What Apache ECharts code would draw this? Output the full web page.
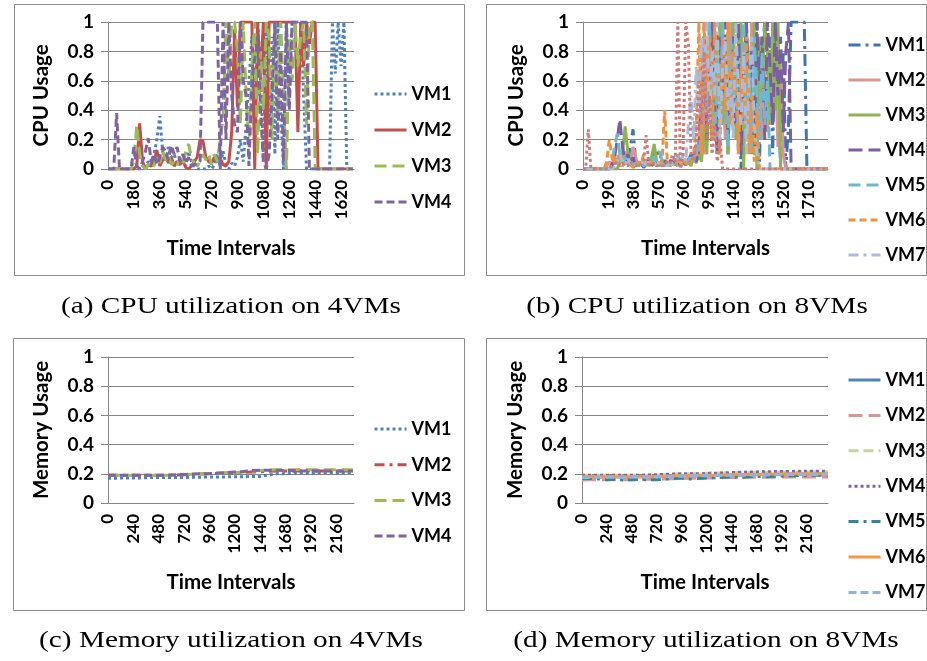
<!DOCTYPE html>
<html>
<head>
<meta charset="utf-8">
<script src="https://cdn.jsdelivr.net/npm/echarts@6/dist/echarts.min.js"></script>
<style>html,body{margin:0;padding:0;background:#fff;}#chart{width:927px;height:661px;}</style>
</head>
<body>
<div id="chart"></div>
<script>
// ---------- DATA ----------
const cpuTimes4 = [0,20,40,60,80,100,120,140,160,180,200,220,240,260,280,300,320,340,360,380,400,420,440,460,480,500,520,540,560,580,600,620,640,660,680,700,720,740,760,780,800,820,840,860,880,900,920,940,960,980,1000,1020,1040,1060,1080,1100,1120,1140,1160,1180,1200,1220,1240,1260,1280,1300,1320,1340,1360,1380,1400,1420,1440,1460,1480,1500,1520,1540,1560,1580,1600,1620,1640,1660,1680,1700];
const cpu4_VM1 = [0,0,0,0,0,0,0,0,0,0,0,0,0,0.02,0.05,0.03,0.1,0.2,0.36,0.12,0.05,0.15,0.08,0.1,0.04,0.06,0.1,0.02,0.12,0.05,0.02,0,0,0,0,0.02,0,0.03,0.1,0.02,0.12,0.03,0,0.04,0.02,0.08,0.2,0.05,0.3,0.6,0.9,0.2,1,0.7,0.05,1,0.3,0.9,0.1,1,0.4,0,1,0.5,1,1,1,1,0.5,0,0,0,0,0,0,0,0,0,1,0.65,1,0.7,1,0,0,0];
const cpu4_VM2 = [0,0,0,0,0,0,0,0,0,0,0.02,0.31,0.05,0,0.03,0.02,0.05,0.13,0.02,0.06,0.1,0.04,0.08,0.02,0.05,0.03,0.06,0.01,0,0.02,0.05,0.08,0.2,0.19,0.08,0.05,0.04,0.08,0.05,0.07,0.03,0.02,0.05,0.25,0.95,0.42,1,1,1,1,1,0,1,0.6,1,0,1,1,1,1,1,1,1,1,1,1,0.25,1,0.7,1,0.85,1,1,0,0,0,0,0,0,0,0,0,0,0,0,0];
const cpu4_VM3 = [0,0,0,0,0,0,0,0,0,0.05,0.3,0.1,0.02,0,0.03,0.05,0.02,0.1,0.04,0.12,0.06,0.1,0.03,0.05,0.02,0.08,0.03,0.12,0.17,0.08,0.04,0.02,0.05,0.1,0.06,0.1,0.03,0.1,0.05,0.2,0.35,1,0.6,1,1,0.8,0.3,1,0.5,0.15,0.7,1,0.1,0.8,0.4,1,0.9,0.2,1,0.35,1,0.5,0,0.9,0.6,1,0.7,0.9,1,0.3,1,1,0,0,0,0,0,0,0,0,0,0,0,0,0,0];
const cpu4_VM4 = [0,0,0,0.38,0,0,0,0,0,0.15,0.02,0,0.05,0.12,0.21,0.05,0.1,0.03,0.08,0.15,0.12,0.06,0.16,0.1,0.15,0.05,0.1,0.04,0.08,0.02,0.03,0.04,0.05,1,1,1,1,1,1,0,1,0.2,1,0.5,0.3,0.25,1,0.6,0.5,0.02,0.6,0.75,0.9,0.4,0.05,0,0.1,0.5,1,0.2,0.8,0.05,1,0.4,1,1,1,1,1,1,0,0,0,0,0,0,0,0,0,0,0,0,0,0,0,0];

const cpuTimes8 = [0,20,40,60,80,100,120,140,160,180,200,220,240,260,280,300,320,340,360,380,400,420,440,460,480,500,520,540,560,580,600,620,640,660,680,700,720,740,760,780,800,820,840,860,880,900,920,940,960,980,1000,1020,1040,1060,1080,1100,1120,1140,1160,1180,1200,1220,1240,1260,1280,1300,1320,1340,1360,1380,1400,1420,1440,1460,1480,1500,1520,1540,1560,1580,1600,1620,1640,1660,1680,1700,1720,1740,1760,1780,1800,1820,1840,1860];
const cpu8_VM1 = [0,0,0,0,0,0,0,0,0,0,0,0.02,0.05,0,0.03,0.08,0.12,0.05,0.15,0.27,0.05,0.02,0.04,0.01,0.03,0.08,0.05,0.12,0.1,0.12,0.04,0.02,0.05,0.03,0.06,0.02,0.04,0.03,0.05,0.02,0.06,0.1,0.03,0.15,0.05,0.4,0.9,0.3,1,0.6,0.2,0.85,1,0.4,0.9,0.1,0.7,1,0.3,0.8,0,0.6,1,0.2,0.9,0.5,1,0.05,0.8,1,0.3,0.9,0.1,1,0.6,0,0.8,0,0.3,1,1,1,1,1,1,0,0,0,0,0,0,0,0,0];
const cpu8_VM2 = [0,0,0,0,0,0,0,0,0,0.02,0.05,0.03,0.08,0.04,0.1,0.06,0.12,0.03,0.05,0.15,0.08,0.02,0.04,0.06,0.03,0.05,0.02,0.08,0.04,0.03,0.06,0.02,0.04,0.05,0.03,0.07,0.02,0.05,0.04,0.06,0.03,0.08,0.05,0.1,0.2,0.6,0.1,0.9,0.3,1,0.5,0.1,0.8,0.6,0.2,0.7,1,0.3,0.6,0.1,0.9,0.4,0.7,0.2,1,0.5,0.3,0.8,0.2,0.7,0.25,0.8,0.4,0.7,0.15,0.75,0.1,0,0,0,0,0,0,0,0,0,0,0,0,0,0,0,0,0];
const cpu8_VM3 = [0,0,0,0,0,0,0,0,0,0,0,0,0,0,0.05,0.1,0.29,0.12,0.05,0.02,0.04,0.02,0.05,0.03,0.06,0.02,0.08,0.17,0.05,0.02,0.04,0.03,0.05,0.02,0.04,0.03,0.05,0.02,0.04,0.03,0.05,0.02,0.08,0.04,0.1,0.05,0.3,0.1,0.6,0.2,0.9,0.4,1,0.3,0.8,0.1,0.6,1,0.2,0.9,1,0,1,0.6,0.1,1,0,0.9,0.5,1,0.8,0.3,1,0.4,1,0,0,0,0,0,0,0,0,0,0,0,0,0,0,0,0,0,0,0];
const cpu8_VM4 = [0,0,0,0,0,0,0,0,0,0,0,0.03,0.08,0.2,0.34,0.15,0.05,0.1,0.04,0.08,0.02,0.05,0.03,0.02,0.04,0.06,0.02,0.05,0.03,0.04,0.02,0.06,0.03,0.05,0.08,0.04,0.06,0.02,0.05,0.03,0.07,0.05,0.1,0.05,0.15,0.5,1,0.2,0.7,1,0.4,0.1,0.9,0.5,1,0.2,0.6,0.9,0.3,1,0.1,0.7,1,0.4,0.8,0.1,1,0.6,0.9,0.2,1,0.7,0.3,1,0.5,0.9,0.25,0.8,1,0,0,0,0,0,0,0,0,0,0,0,0,0,0,0];
const cpu8_VM5 = [0,0,0,0,0,0,0,0,0,0,0,0.05,0.15,0.24,0.1,0.04,0.08,0.03,0.05,0.02,0.04,0.03,0.05,0.02,0.03,0.05,0.08,0.04,0.1,0.12,0.06,0.03,0.05,0.02,0.04,0.06,0.1,0.05,0.08,0.04,0.06,0.1,0.05,0.17,0.1,0.3,0.85,0.4,1,0.5,0.2,0.8,0.35,1,0.6,0.15,0.9,0.4,0.8,0.2,0.6,1,0.3,0.7,0.1,0.9,0.5,0.2,0.8,0.3,0.6,0,0,0,0,0,0,0,0,0,0,0,0,0,0,0,0,0,0,0,0,0,0,0];
const cpu8_VM6 = [0,0,0,0,0,0,0,0,0,0.05,0.2,0.08,0.03,0.1,0.05,0.02,0.04,0.02,0.03,0.01,0.02,0.05,0.03,0.1,0.04,0.02,0.05,0.03,0.02,0.04,0.05,0.4,0.05,0.02,0.04,0.03,0.06,0.02,0.08,0.04,0.02,0.05,0.1,0.3,1,0.1,1,0.5,0.9,0.2,1,0.7,0.1,0.9,0.4,1,0.3,0.8,0.6,0.1,0.7,0.3,0.9,0.1,0.5,0.05,0.4,0,0,0,0,0,0,0,0,0,0,0,0,0,0,0,0,0,0,0,0,0,0,0,0,0,0,0];
const cpu8_VM7 = [0,0,0,0,0,0,0,0,0,0,0,0,0.02,0.05,0.1,0.05,0.02,0.08,0.03,0.05,0.02,0.04,0.03,0.06,0.02,0.05,0.03,0.04,0.02,0.06,0.03,0.05,0.02,0.04,0.03,0.05,0.08,0.04,0.1,0.05,0.3,0.5,0.2,0.7,0.4,0.9,0.6,1,0.3,0.8,0.5,1,0.2,0.7,0.9,0.4,0.6,0.2,1,0.5,0.3,0.8,0.1,0.6,0.9,0.3,0.1,0,0,0,0,0,0,0,0,0,0,0,0,0,0,0,0,0,0,0,0,0,0,0,0,0,0,0];
const cpu8_VM8 = [0,0,0.27,0,0,0,0,0,0,0,0,0.02,0.03,0.05,0.02,0.04,0.03,0.02,0.05,0.03,0.02,0.04,0.03,0.05,0.23,0.03,0.02,0.04,0.02,0.03,0.02,0.04,0.05,0.03,0.1,0.05,1,0,0.1,1,0.85,0.1,0.05,0.2,0.6,0.3,0.8,0.2,0.5,0.1,0.3,0.05,0.2,0,0,0,0,0,0,0,0,0,0,0,0,0,0,0,0,0,0,0,0,0,0,0,0,0,0,0,0,0,0,0,0,0,0,0,0,0,0,0,0,0];

const memTimes4 = [0,80,160,240,320,400,480,560,640,720,800,880,960,1040,1120,1200,1280,1360,1440,1520,1600,1680,1760,1840,1920,2000,2080,2160,2240,2320];
const mem4_VM1 = [0.17,0.17,0.172,0.172,0.172,0.174,0.174,0.174,0.175,0.175,0.176,0.177,0.178,0.178,0.179,0.18,0.18,0.181,0.182,0.192,0.2,0.202,0.203,0.204,0.204,0.205,0.205,0.205,0.205,0.206];
const mem4_VM2 = [0.19,0.19,0.19,0.19,0.19,0.19,0.19,0.19,0.192,0.194,0.196,0.198,0.2,0.202,0.205,0.208,0.21,0.212,0.214,0.218,0.22,0.22,0.22,0.219,0.22,0.22,0.219,0.22,0.22,0.22];
const mem4_VM3 = [0.19,0.19,0.19,0.19,0.19,0.19,0.19,0.19,0.192,0.194,0.197,0.2,0.202,0.204,0.206,0.208,0.212,0.218,0.222,0.226,0.228,0.228,0.228,0.229,0.228,0.228,0.228,0.228,0.228,0.228];
const mem4_VM4 = [0.19,0.19,0.19,0.19,0.19,0.19,0.19,0.19,0.193,0.196,0.198,0.2,0.202,0.205,0.208,0.212,0.216,0.222,0.225,0.225,0.224,0.222,0.222,0.22,0.222,0.22,0.22,0.22,0.22,0.22];

const memTimes8 = [0,80,160,240,320,400,480,560,640,720,800,880,960,1040,1120,1200,1280,1360,1440,1520,1600,1680,1760,1840,1920,2000,2080,2160,2240,2320,2370];
const mem8_VM1 = [0.18,0.18,0.18,0.18,0.18,0.18,0.18,0.18,0.18,0.182,0.184,0.185,0.186,0.186,0.187,0.188,0.188,0.19,0.19,0.192,0.194,0.195,0.196,0.196,0.197,0.198,0.198,0.199,0.2,0.2,0.2];
const mem8_VM2 = [0.158,0.16,0.16,0.16,0.16,0.16,0.16,0.162,0.162,0.163,0.165,0.166,0.168,0.17,0.17,0.172,0.172,0.174,0.175,0.175,0.176,0.176,0.177,0.177,0.178,0.178,0.178,0.178,0.178,0.178,0.178];
const mem8_VM3 = [0.19,0.19,0.19,0.19,0.19,0.19,0.19,0.19,0.19,0.192,0.195,0.198,0.2,0.2,0.202,0.204,0.205,0.206,0.207,0.208,0.209,0.21,0.21,0.211,0.212,0.212,0.213,0.213,0.214,0.214,0.214];
const mem8_VM4 = [0.19,0.19,0.19,0.19,0.19,0.19,0.19,0.19,0.192,0.194,0.196,0.198,0.2,0.2,0.2,0.202,0.204,0.206,0.208,0.21,0.212,0.213,0.214,0.215,0.216,0.216,0.217,0.217,0.218,0.218,0.218];
const mem8_VM5 = [0.17,0.168,0.165,0.16,0.162,0.158,0.16,0.162,0.158,0.16,0.163,0.168,0.17,0.165,0.168,0.172,0.174,0.176,0.178,0.176,0.18,0.182,0.18,0.183,0.185,0.186,0.188,0.188,0.19,0.19,0.19];
const mem8_VM6 = [0.18,0.18,0.18,0.18,0.18,0.178,0.18,0.18,0.18,0.182,0.184,0.186,0.188,0.188,0.19,0.19,0.19,0.192,0.194,0.195,0.196,0.196,0.197,0.198,0.198,0.2,0.2,0.2,0.2,0.2,0.2];
const mem8_VM7 = [0.175,0.175,0.176,0.176,0.177,0.177,0.178,0.178,0.178,0.18,0.182,0.183,0.184,0.185,0.186,0.187,0.188,0.189,0.19,0.19,0.191,0.192,0.192,0.193,0.194,0.195,0.195,0.196,0.196,0.197,0.197];

const yTicks = [0, 0.2, 0.4, 0.6, 0.8, 1];
const captions = ['(a) CPU utilization on 4VMs', '(b) CPU utilization on 8VMs', '(c) Memory utilization on 4VMs', '(d) Memory utilization on 8VMs'];

// ---------- CHART ----------
const FONT = 'Lato, "Open Sans", sans-serif';
const GRID_C = '#868686';
const chart = echarts.init(document.getElementById('chart'), null, {renderer: 'canvas'});

function pairs(times, vals) { return times.map((t, i) => [t, vals[i]]); }
function line(key, name, grid, times, vals, color, dash, width) {
  return {
    type: 'line', name: key + ':' + name, xAxisIndex: grid, yAxisIndex: grid,
    data: pairs(times, vals), symbol: 'none', showSymbol: false,
    lineStyle: {color: color, width: width || 3, type: dash},
    itemStyle: {color: color}, animation: false
  };
}

const gridsCfg = [
  {left: 108, top: 22, width: 246, height: 147, max: 1710, interval: 180, yname: 'CPU Usage'},
  {left: 583, top: 22, width: 245, height: 147, max: 1860, interval: 190, yname: 'CPU Usage'},
  {left: 108, top: 357, width: 246, height: 146, max: 2330, interval: 240, yname: 'Memory Usage'},
  {left: 582, top: 357, width: 246, height: 146, max: 2370, interval: 240, yname: 'Memory Usage'}
];

const series = [
  line('a','VM1',0,cpuTimes4,cpu4_VM1,'#4F81BD',[3,3]),
  line('a','VM2',0,cpuTimes4,cpu4_VM2,'#C0504D','solid'),
  line('a','VM3',0,cpuTimes4,cpu4_VM3,'#9BBB59',[12,6]),
  line('a','VM4',0,cpuTimes4,cpu4_VM4,'#8064A2',[8,4]),

  line('b','VM1',1,cpuTimes8,cpu8_VM1,'#3F74B5',[12,5,3,5]),
  line('b','VM2',1,cpuTimes8,cpu8_VM2,'#D99694','solid'),
  line('b','VM3',1,cpuTimes8,cpu8_VM3,'#8DB352','solid'),
  line('b','VM4',1,cpuTimes8,cpu8_VM4,'#7C5FA0',[14,6]),
  line('b','VM5',1,cpuTimes8,cpu8_VM5,'#6FB9CF',[12,6]),
  line('b','VM6',1,cpuTimes8,cpu8_VM6,'#F0913E',[7,4]),
  line('b','VM7',1,cpuTimes8,cpu8_VM7,'#A9BCDB',[10,5,3,5]),
  line('b','VM8',1,cpuTimes8,cpu8_VM8,'#D07A78',[3,3]),

  line('c','VM1',2,memTimes4,mem4_VM1,'#4F81BD',[3,3]),
  line('c','VM2',2,memTimes4,mem4_VM2,'#C0504D',[10,5,3,5]),
  line('c','VM3',2,memTimes4,mem4_VM3,'#9BBB59',[12,6]),
  line('c','VM4',2,memTimes4,mem4_VM4,'#8064A2',[8,4]),

  line('d','VM1',3,memTimes8,mem8_VM1,'#4F81BD','solid'),
  line('d','VM2',3,memTimes8,mem8_VM2,'#D99694',[14,6]),
  line('d','VM3',3,memTimes8,mem8_VM3,'#C3D69B',[10,5]),
  line('d','VM4',3,memTimes8,mem8_VM4,'#8064A2',[3,3]),
  line('d','VM5',3,memTimes8,mem8_VM5,'#31859C',[10,5,3,5]),
  line('d','VM6',3,memTimes8,mem8_VM6,'#F79646','solid'),
  line('d','VM7',3,memTimes8,mem8_VM7,'#95B3D7',[8,4])
];

const boldText = {fontFamily: FONT, fontWeight: 'bold', color: '#000'};

function legend(key, names, left, top, gap) {
  return {
    orient: 'vertical', left: left, top: top, padding: 0, itemWidth: 32, itemHeight: 14, itemGap: gap,
    data: names.map(n => key + ':' + n), formatter: n => n.split(':')[1],
    itemStyle: {opacity: 0},
    lineStyle: {width: 3},
    textStyle: Object.assign({fontSize: 18}, boldText), selectedMode: false
  };
}

const option = {
  backgroundColor: '#fff',
  animation: false,
  grid: gridsCfg.map(g => ({left: g.left, top: g.top, width: g.width, height: g.height, containLabel: false})),
  xAxis: gridsCfg.map((g, i) => ({
    gridIndex: i, type: 'value', min: 0, max: g.max, interval: g.interval,
    axisLine: {show: true, onZero: false, lineStyle: {color: GRID_C, width: 1}},
    axisTick: {show: false}, splitLine: {show: false},
    axisLabel: Object.assign({rotate: 90, fontSize: 17, margin: 11, showMaxLabel: false, formatter: v => String(v)}, boldText),
    name: 'Time Intervals', nameLocation: 'middle', nameGap: 69,
    nameTextStyle: Object.assign({fontSize: 20.5}, boldText)
  })),
  yAxis: gridsCfg.map((g, i) => ({
    gridIndex: i, type: 'value', min: yTicks[0], max: yTicks[yTicks.length - 1], interval: 0.2,
    axisLine: {show: true, lineStyle: {color: GRID_C, width: 1}},
    axisTick: {show: true, length: 7, lineStyle: {color: GRID_C}},
    splitLine: {show: true, lineStyle: {color: GRID_C, width: 1}},
    axisLabel: Object.assign({fontSize: 19, margin: 14, formatter: v => String(v)}, boldText),
    name: g.yname, nameLocation: 'middle', nameGap: 56,
    nameTextStyle: Object.assign({fontSize: 20.5}, boldText)
  })),
  legend: [
    legend('a', ['VM1','VM2','VM3','VM4'], 373, 85, 18),
    legend('b', ['VM1','VM2','VM3','VM4','VM5','VM6','VM7'], 847, 36, 17),
    legend('c', ['VM1','VM2','VM3','VM4'], 373, 420, 17.7),
    legend('d', ['VM1','VM2','VM3','VM4','VM5','VM6','VM7'], 847, 371, 17.4)
  ],
  series: series,
  graphic: [
    {type: 'rect', shape: {x: 14.5, y: 4.5, width: 450, height: 271}, style: {fill: 'none', stroke: '#8c8c8c', lineWidth: 1}, silent: true},
    {type: 'rect', shape: {x: 486.5, y: 4.5, width: 440, height: 271}, style: {fill: 'none', stroke: '#8c8c8c', lineWidth: 1}, silent: true},
    {type: 'rect', shape: {x: 13.5, y: 338.5, width: 451, height: 272}, style: {fill: 'none', stroke: '#8c8c8c', lineWidth: 1}, silent: true},
    {type: 'rect', shape: {x: 486.5, y: 338.5, width: 440, height: 272}, style: {fill: 'none', stroke: '#8c8c8c', lineWidth: 1}, silent: true},
    {type: 'text', x: 231, y: 307, scaleX: 1.22, style: {text: captions[0], font: '24px "Liberation Serif", serif', fill: '#000', align: 'center', verticalAlign: 'middle'}, silent: true},
    {type: 'text', x: 697, y: 307, scaleX: 1.22, style: {text: captions[1], font: '24px "Liberation Serif", serif', fill: '#000', align: 'center', verticalAlign: 'middle'}, silent: true},
    {type: 'text', x: 231, y: 641, scaleX: 1.22, style: {text: captions[2], font: '24px "Liberation Serif", serif', fill: '#000', align: 'center', verticalAlign: 'middle'}, silent: true},
    {type: 'text', x: 706, y: 641, scaleX: 1.22, style: {text: captions[3], font: '24px "Liberation Serif", serif', fill: '#000', align: 'center', verticalAlign: 'middle'}, silent: true}
  ]
};
chart.setOption(option);
</script>
</body>
</html>
